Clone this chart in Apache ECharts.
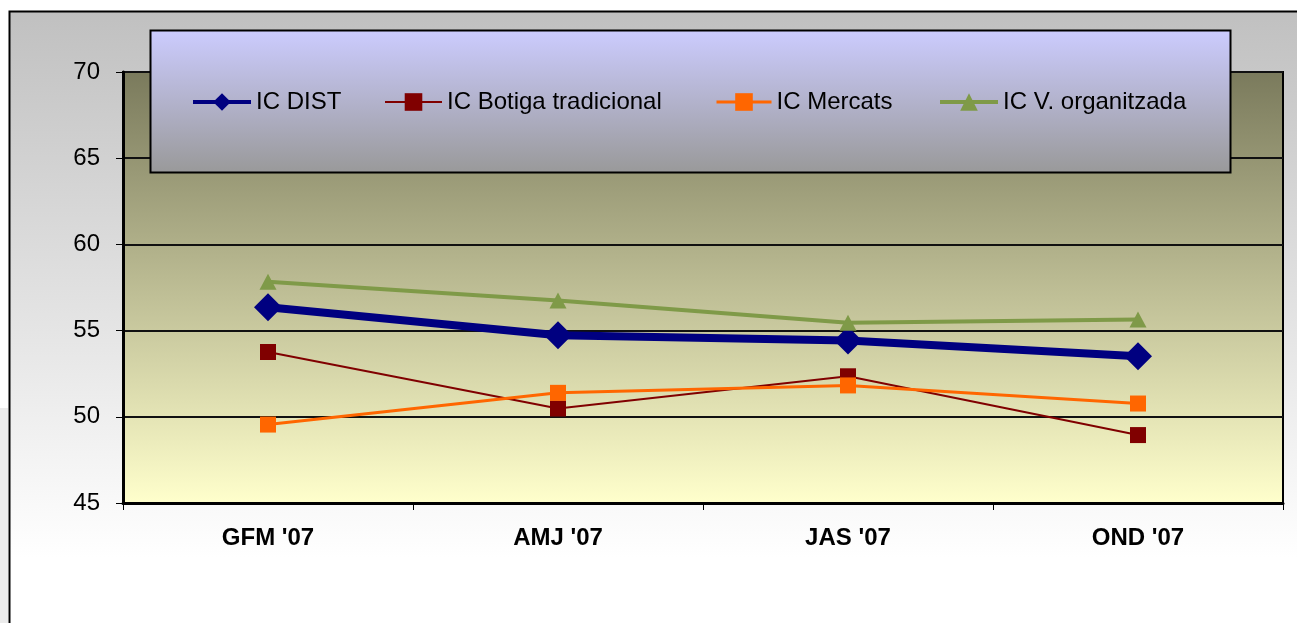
<!DOCTYPE html>
<html>
<head>
<meta charset="utf-8">
<script src="https://cdn.jsdelivr.net/npm/echarts@6/dist/echarts.min.js"></script>
<style>
    html, body { margin: 0; padding: 0; background: #fff; }
    #main { width: 1297px; height: 623px; }
</style>
</head>
<body>
<div id="main"></div>
<script>
// categories and values
var categories = ["GFM '07", "AMJ '07", "JAS '07", "OND '07"];
var icDist = [56.35, 54.73, 54.42, 53.51];
var icBotiga = [53.76, 50.48, 52.35, 48.94];
var icMercats = [49.55, 51.39, 51.82, 50.77];
var icVOrg = [57.84, 56.74, 55.45, 55.64];
var seriesNames = ['IC DIST', 'IC Botiga tradicional', 'IC Mercats', 'IC V. organitzada'];

var font = 'Liberation Sans, Arial, sans-serif';

var myChart = echarts.init(document.getElementById('main'));

// one legend per item so each sits where it is in the picture
function legendItem(name, left, width, lineWidth) {
    return {
        data: [name],
        left: left,
        top: 90,
        itemWidth: width,
        itemHeight: 22,
        padding: 0,
        selectedMode: false,
        z: 5,
        lineStyle: { width: lineWidth },
        textStyle: { fontSize: 24, fontFamily: font, color: '#000', padding: [2, 0, 0, 0] }
    };
}

var option = {
    animation: false,
    textStyle: { fontFamily: font },
    graphic: [
        {
            // outer chart frame
            type: 'rect',
            z: -10,
            shape: { x: 9.5, y: 11.5, width: 1300, height: 620 },
            style: {
                fill: {
                    type: 'linear', x: 0, y: 0, x2: 0, y2: 1,
                    colorStops: [
                        { offset: 0, color: '#c0c0c0' },
                        { offset: 0.88, color: '#ffffff' }
                    ]
                },
                stroke: '#000',
                lineWidth: 2
            }
        },
        {
            type: 'rect',
            z: -10,
            shape: { x: 0, y: 408, width: 8, height: 215 },
            style: { fill: '#ebebeb' }
        },
        {
            // legend box
            type: 'rect',
            z: 3,
            shape: { x: 150.5, y: 30.5, width: 1080, height: 142 },
            style: {
                fill: {
                    type: 'linear', x: 0, y: 0, x2: 0, y2: 1,
                    colorStops: [
                        { offset: 0, color: '#ccccff' },
                        { offset: 1, color: '#999999' }
                    ]
                },
                stroke: '#000',
                lineWidth: 2
            }
        }
    ],
    legend: [
        legendItem(seriesNames[0], 191, 58, 4),
        legendItem(seriesNames[1], 384, 57, 2),
        legendItem(seriesNames[2], 715, 55, 3),
        legendItem(seriesNames[3], 938, 58, 4)
    ],
    grid: {
        left: 123,
        top: 72,
        width: 1160,
        height: 431,
        show: true,
        borderColor: '#000',
        borderWidth: 2,
        backgroundColor: {
            type: 'linear', x: 0, y: 0, x2: 0, y2: 1,
            colorStops: [
                { offset: 0, color: '#7a7a5c' },
                { offset: 1, color: '#ffffcc' }
            ]
        }
    },
    xAxis: {
        type: 'category',
        data: categories,
        boundaryGap: true,
        axisLine: { lineStyle: { color: '#000', width: 3 } },
        axisTick: { show: true, length: 7, lineStyle: { color: '#000', width: 1 } },
        axisLabel: { color: '#000', fontSize: 24, fontWeight: 'bold', fontFamily: font, margin: 23 }
    },
    yAxis: {
        type: 'value',
        min: 45,
        max: 70,
        interval: 5,
        axisLine: { show: true, lineStyle: { color: '#000', width: 3 } },
        axisTick: { show: true, length: 7, lineStyle: { color: '#000', width: 1 } },
        axisLabel: { color: '#000', fontSize: 24, fontFamily: font, margin: 23 },
        splitLine: { show: true, lineStyle: { color: '#111', width: 2 } }
    },
    series: [
        {
            name: seriesNames[0],
            type: 'line',
            data: icDist,
            symbol: 'diamond',
            symbolSize: 28,
            color: '#000080',
            lineStyle: { width: 8, color: '#000080' },
            itemStyle: { color: '#000080' }
        },
        {
            name: seriesNames[1],
            type: 'line',
            data: icBotiga,
            symbol: 'rect',
            symbolSize: 16,
            color: '#800000',
            lineStyle: { width: 2, color: '#800000' },
            itemStyle: { color: '#800000' }
        },
        {
            name: seriesNames[2],
            type: 'line',
            data: icMercats,
            symbol: 'rect',
            symbolSize: 16,
            color: '#ff6600',
            lineStyle: { width: 3, color: '#ff6600' },
            itemStyle: { color: '#ff6600' }
        },
        {
            name: seriesNames[3],
            type: 'line',
            data: icVOrg,
            symbol: 'triangle',
            symbolSize: [17, 16],
            color: '#7f9a48',
            lineStyle: { width: 4, color: '#7f9a48' },
            itemStyle: { color: '#7f9a48' }
        }
    ]
};

myChart.setOption(option);
</script>
</body>
</html>
